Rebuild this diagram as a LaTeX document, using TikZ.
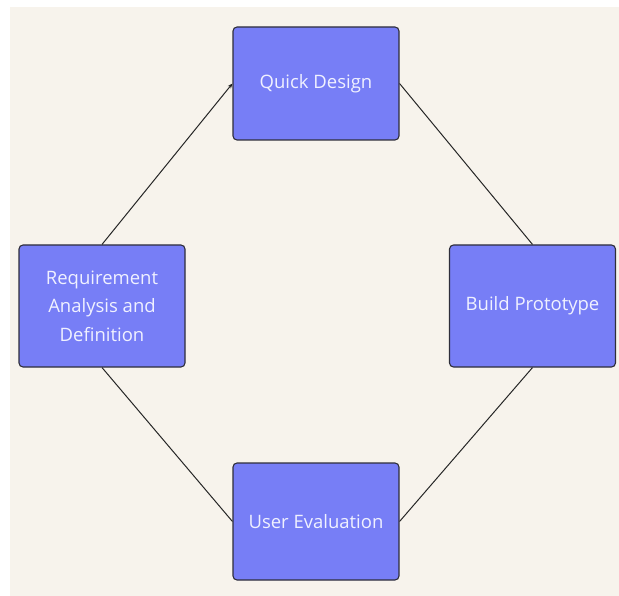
\documentclass[tikz,border=0pt]{standalone}
\usepackage{fontspec}
\setmainfont{Open Sans}
\usetikzlibrary{arrows.meta}
\definecolor{bgc}{HTML}{F7F3EC}
\definecolor{boxc}{HTML}{777EF6}
\definecolor{edgec}{HTML}{2E2E3A}
\definecolor{txtc}{HTML}{F0F1FF}
\begin{document}
\begin{tikzpicture}[x=1pt,y=-1pt,
  stagebox/.style={draw=edgec,line width=1.1pt,fill=boxc,rounded corners=4pt,
    minimum width=166pt,inner sep=2pt,text=txtc,align=center,
    font=\fontsize{18.5}{28.5}\selectfont},
  link/.style={draw=black!85,line width=1pt}]
\useasboundingbox (0,0) rectangle (619,596);
\fill[white] (0,0) rectangle (619,596);
\fill[bgc] (10,7) rectangle (619,596);
\node[stagebox,minimum height=113pt] (qd) at (316,83.5) {Quick Design};
\node[stagebox,minimum height=122pt] (req) at (102,306) {Requirement\\Analysis and\\Definition};
\node[stagebox,minimum height=122pt] (bp) at (532.5,306) {Build Prototype};
\node[stagebox,minimum height=117pt] (ue) at (316,521.5) {User Evaluation};
\draw[link,-{Stealth[length=5pt,width=4pt]}] (req.north) -- (qd.west);
\draw[link] (qd.east) -- (bp.north);
\draw[link] (bp.south) -- (ue.east);
\draw[link] (ue.west) -- (req.south);
\end{tikzpicture}
\end{document}
